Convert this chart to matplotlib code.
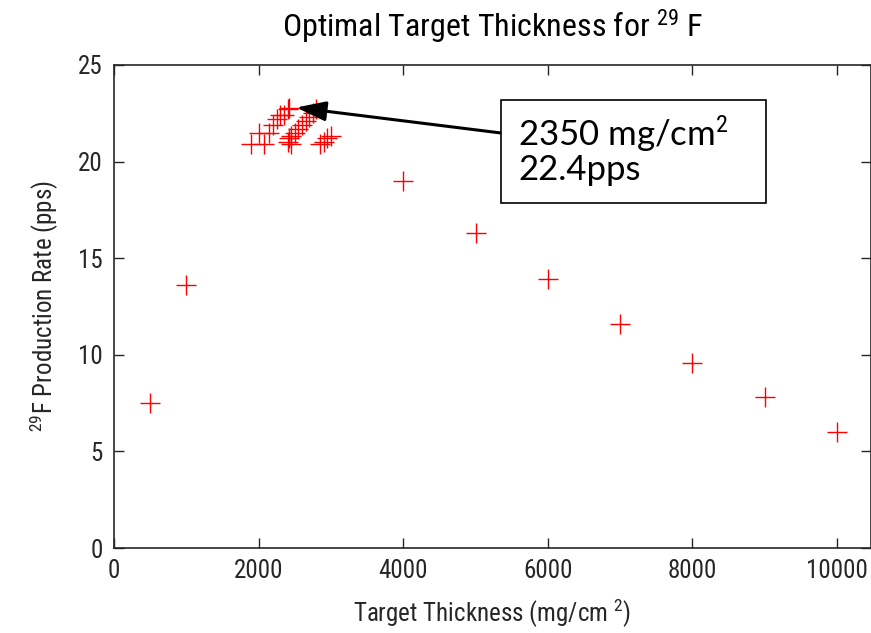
import matplotlib
matplotlib.use("Agg")
import matplotlib.pyplot as plt
from matplotlib import font_manager
from matplotlib.patches import Rectangle

# pick a condensed sans face if one is installed
entries = font_manager.fontManager.ttflist
names = {f.name for f in entries}
narrow = None
for cand in ["Liberation Sans Narrow", "Roboto Condensed", "Open Sans Condensed",
             "DejaVu Sans Condensed", "Noto Sans Condensed"]:
    if cand in names:
        narrow = cand
        break
if narrow is None:
    for f in entries:
        if "condensed" in str(f.stretch) or "Narrow" in f.name or "Condensed" in f.name:
            narrow = f.name
            break
if narrow is None:
    narrow = "Liberation Sans"

plt.rcParams["font.family"] = narrow
plt.rcParams["mathtext.fontset"] = "custom"
plt.rcParams["mathtext.rm"] = narrow
plt.rcParams["mathtext.it"] = narrow

# coarse thickness scan
thickness = [500, 1000, 4000, 5000, 6000, 7000, 8000, 9000, 10000]
rate = [7.5, 13.6, 19.0, 16.3, 13.9, 11.6, 9.6, 7.8, 6.0]

# fine scan around the maximum
fine_thickness = [1900, 2000, 2075, 2150, 2200, 2250, 2300, 2350, 2400, 2420,
                  2400, 2420, 2450, 2450, 2500, 2550, 2600, 2650, 2700, 2750,
                  2800, 2850, 2900, 2950, 3000]
fine_rate = [20.9, 21.5, 20.9, 21.5, 21.9, 22.2, 22.4, 22.4, 22.7, 22.8,
             21.0, 21.2, 20.9, 21.3, 21.5, 21.7, 21.9, 22.1, 22.3, 22.5,
             22.7, 20.9, 21.0, 21.2, 21.3]

best_t, best_r = 2350, 22.4

W, H = 871, 633
fig = plt.figure(figsize=(W / 100, H / 100), dpi=100)
ax = fig.add_axes([114 / W, 85 / H, 757 / W, 483 / H])

grey = "#262626"
ax.plot(thickness + fine_thickness, rate + fine_rate, "+", color="red",
        markersize=14, markeredgewidth=1.0)

ax.set_xlim(0, 10470)
ax.set_ylim(0, 25)
ax.set_xticks([0, 2000, 4000, 6000, 8000, 10000])
ax.set_yticks([0, 5, 10, 15, 20, 25])
ax.tick_params(direction="in", length=7, width=1, top=True, right=True,
               labelsize=18, colors=grey, pad=8)
for s in ax.spines.values():
    s.set_color(grey)
    s.set_linewidth(1.2)

ax.set_title("Optimal Target Thickness for $^{29}$ F", fontsize=23, color="black", pad=20)
ax.set_xlabel("Target Thickness (mg/cm $^{2}$)", fontsize=18, color=grey, labelpad=10)
ax.set_ylabel("$^{29}$F Production Rate (pps)", fontsize=18, color=grey, labelpad=12)

# callout box (figure pixels, origin bottom-left)
box_x, box_y, box_w, box_h = 501, H - 203, 265, 103
fig.patches.append(Rectangle((box_x, box_y), box_w, box_h, transform=None,
                             fc="white", ec="black", lw=1.2, zorder=5))
fig.text(518 / W, (H - 150) / H, f"{best_t} mg/cm$^2$\n{best_r}pps",
         family="Lato", fontsize=25, ha="left", va="center",
         linespacing=1.0, zorder=6)
ax.annotate("", xy=(2520, 22.8), xytext=(box_x / W, (H - 133) / H),
            textcoords="figure fraction",
            arrowprops=dict(arrowstyle="-|>,head_length=0.9,head_width=0.3",
                            mutation_scale=20, color="black", lw=2.2,
                            shrinkA=0, shrinkB=0))

fig.savefig("out.png", dpi=100)
